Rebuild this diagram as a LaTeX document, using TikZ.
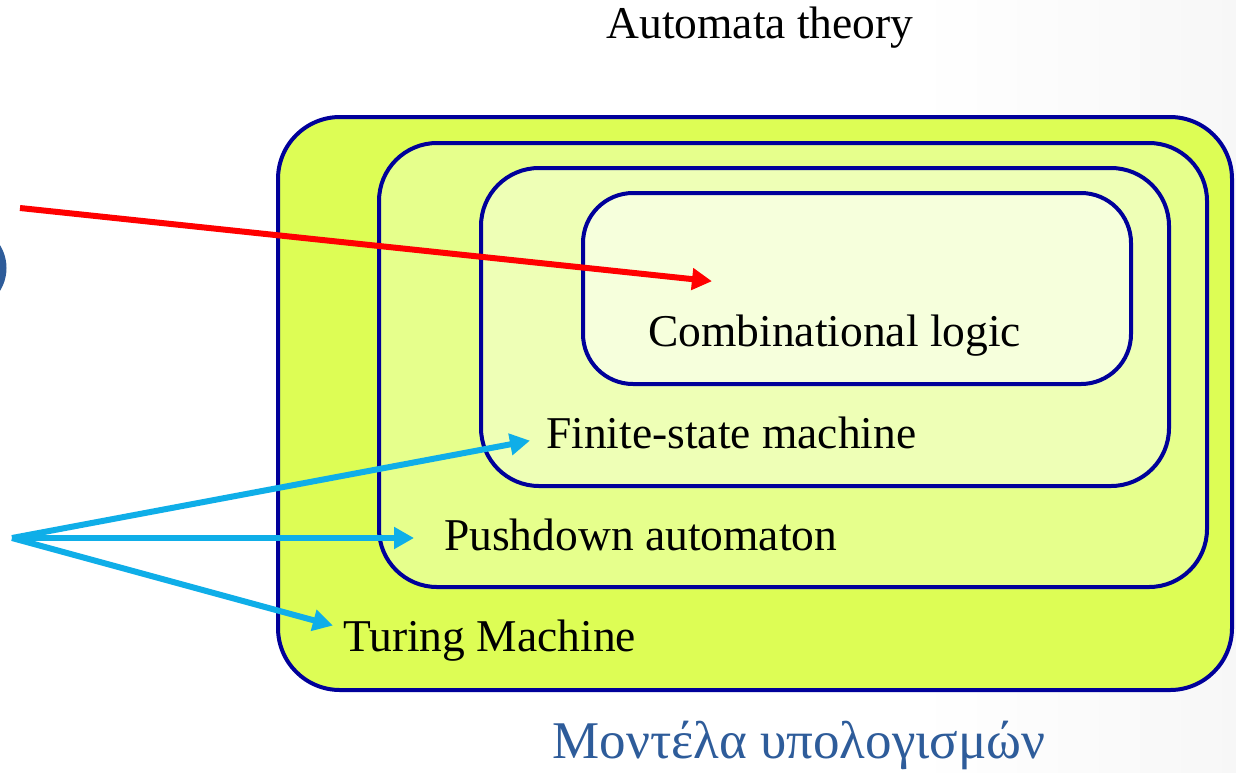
\documentclass[tikz,border=0pt]{standalone}
\usepackage{fontspec}
\setmainfont{Liberation Serif}
\usetikzlibrary{arrows.meta}
\pgfdeclarehorizontalshading{bgshade}{100bp}{color(0bp)=(white); color(62bp)=(white); color(100bp)=(black!9)}
\definecolor{edgeblue}{HTML}{00009A}
\definecolor{fillA}{HTML}{DDFD55}
\definecolor{fillB}{HTML}{E6FF8C}
\definecolor{fillC}{HTML}{EEFFB6}
\definecolor{fillD}{HTML}{F6FFDC}
\definecolor{greektext}{HTML}{2E5C9A}
\definecolor{redarrow}{HTML}{FF0000}
\definecolor{bluearrow}{HTML}{0FAEE8}
\begin{document}
\begin{tikzpicture}[x=1pt,y=-1pt,
  layer/.style={draw=edgeblue, line width=4pt, rounded corners=#1},
  lbl/.style={font=\fontsize{45.5}{50}\selectfont, inner sep=0pt, anchor=base west},
  arr/.style={line width=6pt, -{Triangle[length=20pt,width=21pt]}, shorten >=-2pt}]
\useasboundingbox (0,0) rectangle (1236,772);
\shade[shading=bgshade] (0,0) rectangle (1236,772);
% partial circle on left edge
\draw[greektext, line width=7pt] (-37,268) circle (40);
% nested boxes
\path[layer=62pt, fill=fillA] (278,117) rectangle (1232,690);
\path[layer=58pt, fill=fillB] (379,143) rectangle (1207,587);
\path[layer=58pt, fill=fillC] (481,168) rectangle (1169,486);
\path[layer=50pt, fill=fillD] (583,193) rectangle (1131,384);
% labels
\node[font=\fontsize{45.5}{50}\selectfont, inner sep=0pt] (title) at (760,28) {Automata theory};
\node[lbl] (comb) at (648,346) {Combinational logic};
\node[lbl] (fsm) at (546,448) {Finite-state machine};
\node[lbl] (pda) at (444,550) {Pushdown automaton};
\node[lbl] (tm) at (343,651) {Turing Machine};
\node[font=\fontsize{53}{58}\selectfont, text=greektext, inner sep=0pt] (greek) at (799,745) {Μοντέλα υπολογισμών};
% arrows
\coordinate (rsrc) at (20,208);
\coordinate (rdst) at (710,281);
\coordinate (bsrc) at (12,538);
\coordinate (bfsm) at (528,441);
\coordinate (bpda) at (412,538);
\coordinate (btm) at (331,625);
\draw[arr, redarrow] (rsrc) -- (rdst);
\draw[arr, bluearrow] (bsrc) -- (bfsm);
\draw[arr, bluearrow] (bsrc) -- (bpda);
\draw[arr, bluearrow] (bsrc) -- (btm);
\end{tikzpicture}
\end{document}
